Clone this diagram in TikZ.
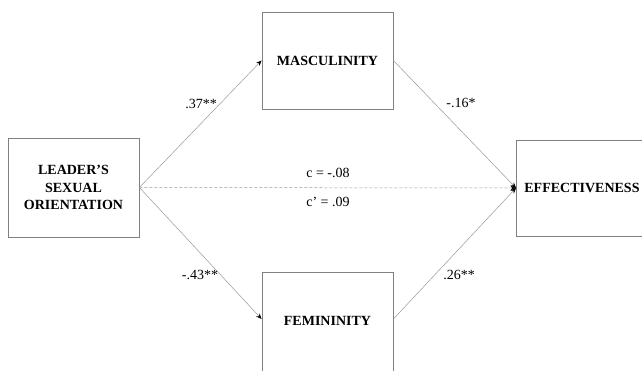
\documentclass[tikz,border=0pt]{standalone}
\usepackage{fontspec}
\setmainfont{Liberation Serif}
\usetikzlibrary{arrows.meta}
\begin{document}
\begin{tikzpicture}[x=1pt,y=1pt,
  box/.style={draw=black!50, line width=0.8pt, fill=white, font=\fontsize{14}{17.5}\selectfont\bfseries, align=center, inner sep=0pt},
  link/.style={draw=black!40, line width=0.5pt, -{Stealth[black,length=5.5pt,width=4.5pt]}},
  coef/.style={font=\fontsize{14}{16}\selectfont, inner sep=0pt}]
\useasboundingbox (0,0) rectangle (642,-370);
\node[box, minimum width=131pt, minimum height=99pt] (lead) at (73.5,-187.5) {LEADER’S\\SEXUAL\\ORIENTATION};
\node[box, minimum width=131pt, minimum height=97pt] (mas) at (327.5,-60.5) {MASCULINITY};
\node[box, minimum width=131pt, minimum height=100pt] (fem) at (327.5,-322) {\raisebox{2pt}{FEMININITY}};
\node[box, anchor=west, text width=124pt, align=left, inner xsep=8pt, minimum height=96pt] (eff) at (516,-188) {EFFECTIVENESS};
\coordinate (femin) at ([yshift=3pt]fem.west);
\coordinate (femout) at ([yshift=3pt]fem.east);
\draw[link] (lead.east) -- (mas.west);
\draw[link] (lead.east) -- (femin);
\draw[link] (mas.east) -- (eff.west);
\draw[link] (femout) -- (eff.west);
\draw[link, dash pattern=on 3pt off 2pt] (lead.east) -- (eff.west);
\node[coef] (l1) at (201,-104) {.37**};
\node[coef] (l2) at (461,-103) {-.16*};
\node[coef] (l3) at (200,-275) {-.43**};
\node[coef] (l4) at (459,-275) {.26**};
\node[coef] (l5) at (328,-173) {c = -.08};
\node[coef] (l6) at (328,-202) {c’ = .09};
\end{tikzpicture}
\end{document}
